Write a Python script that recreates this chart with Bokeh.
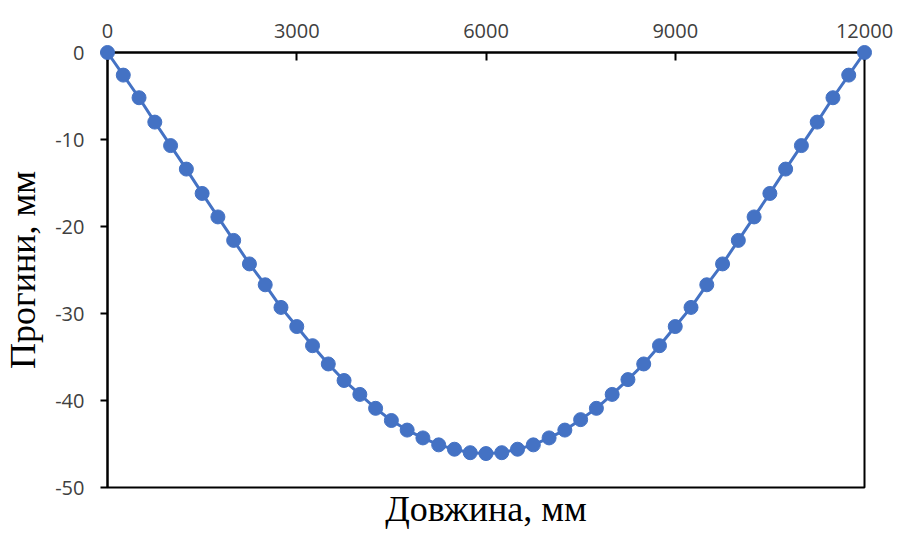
from bokeh.plotting import figure
from bokeh.models import LinearAxis, FixedTicker, Range1d
from bokeh.embed import file_html
from bokeh.resources import INLINE

# Data (length in mm, deflection in mm)
length_mm = [0, 250, 500, 750, 1000, 1250, 1500, 1750, 2000, 2250, 2500, 2750,
             3000, 3250, 3500, 3750, 4000, 4250, 4500, 4750, 5000, 5250, 5500, 5750,
             6000, 6250, 6500, 6750, 7000, 7250, 7500, 7750, 8000, 8250, 8500, 8750,
             9000, 9250, 9500, 9750, 10000, 10250, 10500, 10750, 11000, 11250, 11500,
             11750, 12000]
deflection_mm = [0, -2.6, -5.2, -8.0, -10.7, -13.4, -16.2, -18.9, -21.6, -24.3, -26.7, -29.3,
                 -31.5, -33.7, -35.8, -37.7, -39.3, -40.9, -42.3, -43.4, -44.3, -45.1, -45.6, -46.0,
                 -46.1, -46.0, -45.6, -45.1, -44.3, -43.4, -42.2, -40.9, -39.3, -37.6, -35.8, -33.7,
                 -31.5, -29.3, -26.7, -24.3, -21.6, -18.9, -16.2, -13.4, -10.7, -8.0, -5.2,
                 -2.6, 0]
x_ticks = [0, 3000, 6000, 9000, 12000]
x_tick_labels = ["0", "3000", "6000", "9000", "12000"]
y_ticks = [-50, -40, -30, -20, -10, 0]
y_tick_labels = ["-50", "-40", "-30", "-20", "-10", "0"]
x_title = "Довжина, мм"
y_title = "Прогини, мм"

BLUE = "#4472C4"
TICK_COLOR = "#404040"

p = figure(width=897, height=534, output_backend="svg", toolbar_location=None,
           x_range=Range1d(0, 12000), y_range=Range1d(-50, 0),
           x_axis_location="above", min_border_left=107, min_border_top=52,
           min_border_right=33, min_border_bottom=47)
p.background_fill_color = "white"
p.border_fill_color = "white"
p.grid.visible = False
p.outline_line_color = "black"
p.outline_line_width = 2

# top x axis
xa = p.xaxis[0]
xa.ticker = FixedTicker(ticks=x_ticks)
xa.major_label_overrides = {t: s for t, s in zip(x_ticks, x_tick_labels)}
xa.major_tick_in = 8
xa.major_tick_out = 0
xa.minor_tick_line_color = None
xa.axis_line_width = 2
xa.major_tick_line_width = 2
xa.major_label_text_font = "Open Sans"
xa.major_label_text_font_size = "20px"
xa.major_label_text_color = TICK_COLOR
xa.major_label_standoff = 15

# left y axis
ya = p.yaxis[0]
ya.ticker = FixedTicker(ticks=y_ticks)
ya.major_label_overrides = {t: s for t, s in zip(y_ticks, y_tick_labels)}
ya.major_tick_in = 0
ya.major_tick_out = 7
ya.minor_tick_line_color = None
ya.axis_line_width = 2
ya.major_tick_line_width = 2
ya.major_label_text_font = "Open Sans"
ya.major_label_text_font_size = "20px"
ya.major_label_text_color = TICK_COLOR
ya.major_label_standoff = 16
ya.axis_label = y_title
ya.axis_label_text_font = "Liberation Serif"
ya.axis_label_text_font_size = "36px"
ya.axis_label_text_font_style = "normal"
ya.axis_label_text_color = "black"
ya.axis_label_standoff = 9

# bottom axis only for the title
ba = LinearAxis(ticker=FixedTicker(ticks=[]), axis_line_color=None,
                major_tick_line_color=None, minor_tick_line_color=None,
                major_label_text_font_size="0px")
ba.axis_label = x_title
ba.axis_label_text_font = "Liberation Serif"
ba.axis_label_text_font_size = "36px"
ba.axis_label_text_font_style = "normal"
ba.axis_label_text_color = "black"
ba.axis_label_standoff = 1
p.add_layout(ba, "below")

p.line(length_mm, deflection_mm, line_color=BLUE, line_width=3, level="overlay")
p.scatter(length_mm, deflection_mm, size=14, fill_color=BLUE, line_color=BLUE,
          level="overlay")

open("out.html", "w").write(file_html(p, INLINE))
